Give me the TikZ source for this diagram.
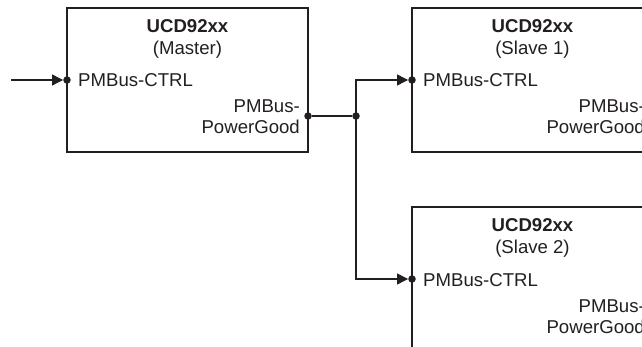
\documentclass[tikz,border=0pt]{standalone}
\usepackage{fontspec}
\setmainfont{Liberation Sans}
\usetikzlibrary{arrows.meta}
\definecolor{ink}{HTML}{231F20}
\begin{document}
\begin{tikzpicture}[x=1pt,y=-1pt,
 blk/.style={draw=ink, line width=1.3pt, minimum width=241pt, minimum height=144pt, inner sep=0pt},
 lbl/.style={font=\fontsize{18.6}{22}\selectfont, text=ink, inner sep=0pt},
 ttl/.style={lbl, font=\fontsize{18.6}{22}\selectfont\bfseries},
 wire/.style={line width=1.2pt, draw=ink},
 arr/.style={wire, -{Triangle[length=11pt,width=11pt]}},
 dotc/.style={circle, fill=ink, minimum size=7.5pt, inner sep=0pt}]
\useasboundingbox (0,0) rectangle (642,347);
% blocks
\node[blk] (m) at (187.5,80) {};
\node[blk] (s1) at (532.5,80) {};
\node[blk] (s2) at (532.5,279) {};
% master texts
\node[ttl, anchor=base] (mt) at (187.5,33) {UCD92xx};
\node[lbl, anchor=base] (ms) at (187.5,55) {(Master)};
\node[lbl, anchor=base west] (mc) at (78,87) {PMBus-CTRL};
\node[lbl, anchor=base east] (mp1) at (300,113) {PMBus-};
\node[lbl, anchor=base east] (mp2) at (300,134) {PowerGood};
% slave 1 texts
\node[ttl, anchor=base] (at) at (532.5,33) {UCD92xx};
\node[lbl, anchor=base] (as) at (532.5,55) {(Slave 1)};
\node[lbl, anchor=base west] (ac) at (423,87) {PMBus-CTRL};
\node[lbl, anchor=base east] (ap1) at (645,113) {PMBus-};
\node[lbl, anchor=base east] (ap2) at (645,134) {PowerGood};
% slave 2 texts
\node[ttl, anchor=base] (bt) at (532.5,232) {UCD92xx};
\node[lbl, anchor=base] (bs) at (532.5,254) {(Slave 2)};
\node[lbl, anchor=base west] (bc) at (423,286) {PMBus-CTRL};
\node[lbl, anchor=base east] (bp1) at (645,312) {PMBus-};
\node[lbl, anchor=base east] (bp2) at (645,333) {PowerGood};
% ports
\coordinate (src) at (11,80);
\node[dotc] (min) at (67,80) {};
\node[dotc] (mout) at (308,116) {};
\node[dotc] (j) at (356,116) {};
\node[dotc] (ain) at (412,80) {};
\node[dotc] (bin) at (412,279) {};
% connectors
\draw[arr] (src) -- (min);
\draw[wire] (mout) -- (j);
\draw[arr] (j.center) |- (ain);
\draw[arr] (j.center) |- (bin);
\end{tikzpicture}
\end{document}
